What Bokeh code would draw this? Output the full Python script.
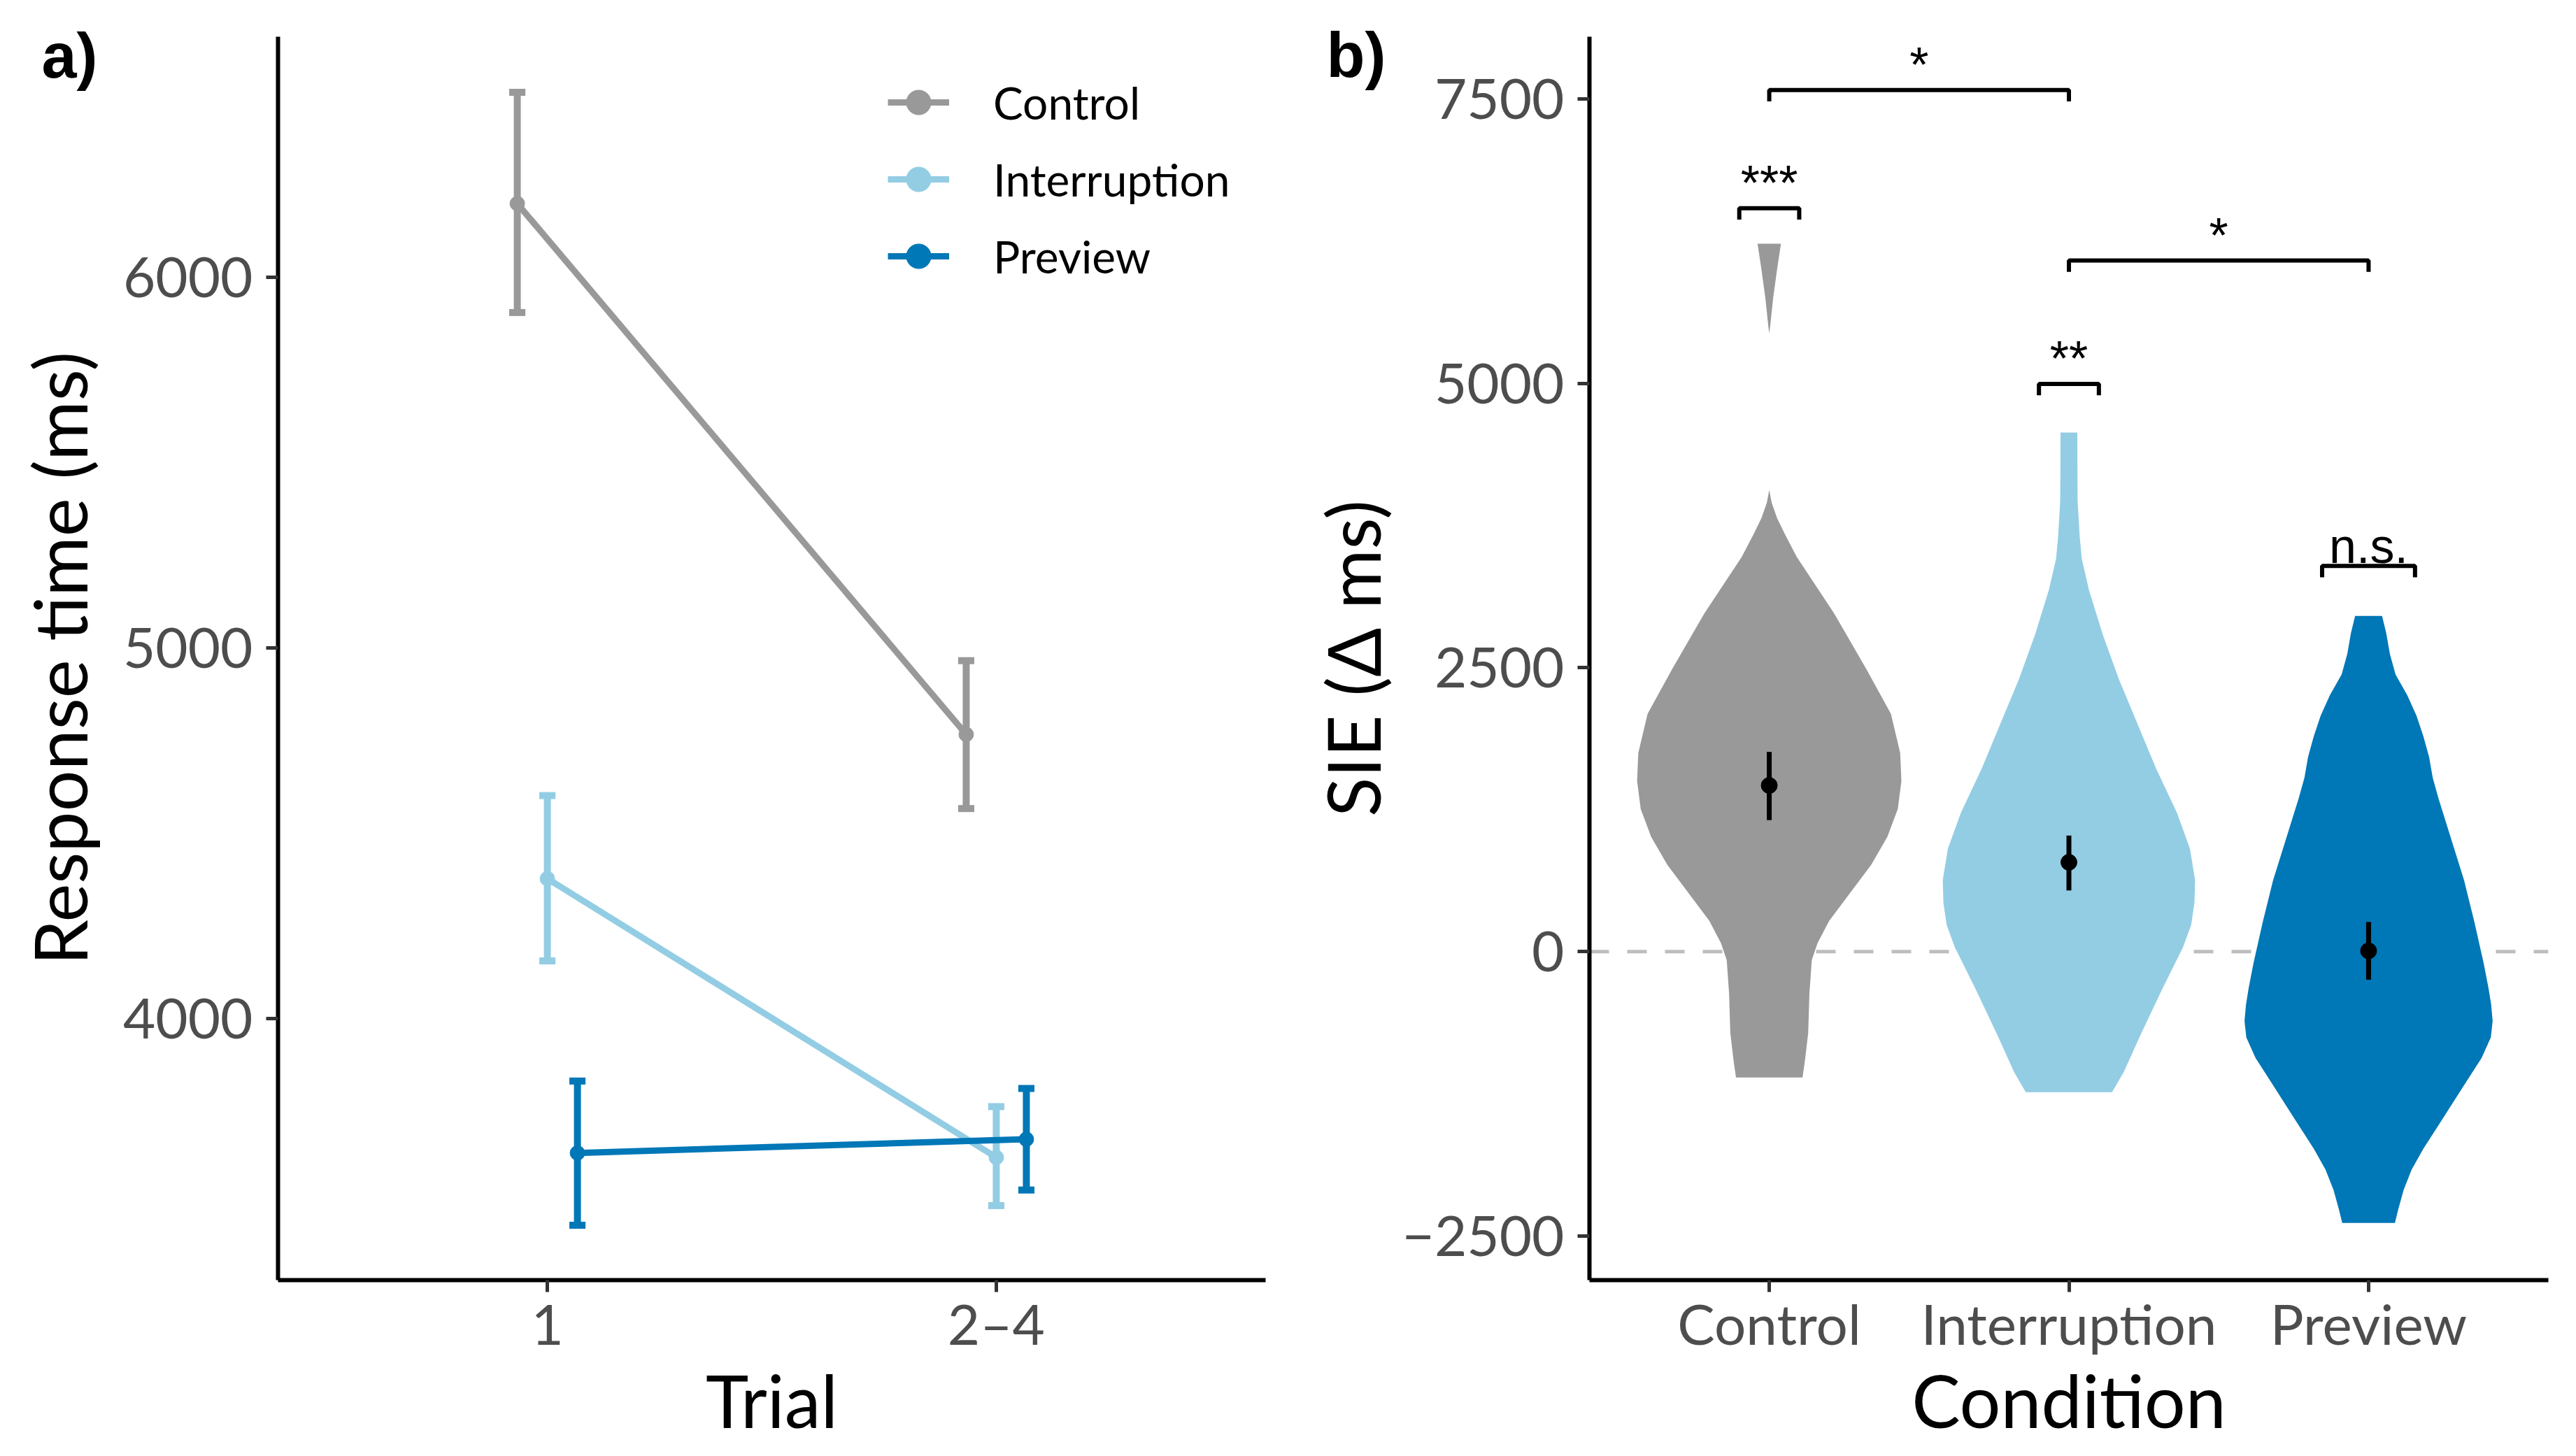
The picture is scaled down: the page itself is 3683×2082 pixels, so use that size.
from bokeh.plotting import figure
from bokeh.models import Range1d, FixedTicker, Span, Legend, LegendItem, LinearAxis
from bokeh.layouts import row
from bokeh.embed import file_html
from bokeh.resources import INLINE
from bokeh.core.properties import value

# ---------------- data ----------------
CONDITIONS = ["Control", "Interruption", "Preview"]
COLORS = ["#999999", "#93CDE4", "#0077B6"]
TRIALS = ["1", "2\u20134"]
DODGE = [-0.067, 0.0, 0.067]

# panel a: response time (ms), per condition, per trial
RT_MEAN = [[6199, 4767], [4378, 3626], [3638, 3675]]
RT_LOW = [[5905, 4567], [4156, 3496], [3443, 3538]]
RT_HIGH = [[6499, 4966], [4602, 3763], [3832, 3812]]
RT_TICKS = [4000, 5000, 6000]

# panel b: SIE (delta ms)
SIE_MEAN = [1462, 786, 7]
SIE_LOW = [1157, 538, -247]
SIE_HIGH = [1757, 1021, 261]
SIE_TICKS = [-2500, 0, 2500, 5000, 7500]
SIE_TICK_LABELS = ["\u22122500", "0", "2500", "5000", "7500"]

# violin outlines: y value and half width (in category units)
CONTROL_VY = [6228, 6000, 5750, 5500, 5440, 4060, 3950, 3815, 3668, 3471, 2978, 2486,
              2092, 1748, 1501, 1255, 1009, 763, 517, 271, 74, -74, -369, -714, -960, -1108]
CONTROL_VW = [0.039, 0.026, 0.013, 0.003, 0.0, 0.0, 0.008, 0.026, 0.053, 0.092, 0.216, 0.324,
              0.406, 0.437, 0.441, 0.429, 0.394, 0.340, 0.270, 0.200, 0.161, 0.142, 0.134,
              0.130, 0.119, 0.111]
INTERRUPTION_VY = [4566, 3966, 3652, 3455, 3181, 2788, 2395, 2003, 1610, 1218, 904, 629,
                   432, 236, 40, -353, -745, -1059, -1236]
INTERRUPTION_VW = [0.028, 0.029, 0.036, 0.043, 0.067, 0.113, 0.167, 0.229, 0.291, 0.361,
                   0.404, 0.421, 0.419, 0.408, 0.381, 0.307, 0.237, 0.183, 0.144]
PREVIEW_VY = [2953, 2801, 2619, 2438, 2257, 2075, 1894, 1712, 1531, 1350, 987, 624, 261,
              -102, -319, -464, -610, -755, -936, -1190, -1480, -1734, -1916, -2097,
              -2278, -2387]
PREVIEW_VW = [0.045, 0.059, 0.071, 0.090, 0.129, 0.160, 0.183, 0.202, 0.214, 0.233, 0.276,
              0.319, 0.353, 0.384, 0.400, 0.409, 0.414, 0.408, 0.377, 0.315, 0.245, 0.183,
              0.144, 0.117, 0.098, 0.088]
VIOLIN_Y = [CONTROL_VY, INTERRUPTION_VY, PREVIEW_VY]
VIOLIN_W = [CONTROL_VW, INTERRUPTION_VW, PREVIEW_VW]

# significance annotations
SIG_FROM = ["Control", "Control", "Interruption", "Interruption", "Preview"]
SIG_TO = ["Control", "Interruption", "Interruption", "Preview", "Preview"]
SIG_Y = [6540, 7580, 4994, 6080, 3393]
SIG_PAD = [0.1, 0.0, 0.1, 0.0, 0.155]
SIG_TEXT = ["***", "*", "**", "*", "n.s."]
SIG_LABEL_Y = [6759, 7799, 5213, 6299, 3569]
SIG_TIP = 100

# panel tags ("a)", "b)") and the y value at which each sits
PANEL_TAGS = ["a)", "b)"]
PANEL_TAG_Y = [6598, 7883]

FONT = "Lato"
TICK_COLOR = "#4D4D4D"


def style(p):
    p.grid.visible = False
    p.outline_line_color = None
    p.background_fill_color = "white"
    p.border_fill_color = "white"
    for ax in (p.xaxis[0], p.yaxis[0]):
        ax.axis_line_width = 6
        ax.axis_line_color = "black"
        ax.major_tick_line_width = 5
        ax.major_tick_line_color = "#333333"
        ax.major_tick_out = 17
        ax.major_tick_in = 0
        ax.minor_tick_line_color = None
        ax.major_label_text_font = FONT
        ax.major_label_text_font_size = "80px"
        ax.major_label_text_color = TICK_COLOR
        ax.axis_label_text_font = FONT
        ax.axis_label_text_font_size = "104px"
        ax.axis_label_text_font_style = "normal"
        ax.axis_label_text_color = "black"
    p.xaxis[0].major_label_standoff = -4
    p.xaxis[0].axis_label_standoff = -4
    p.yaxis[0].major_label_standoff = 19


def add_tag(p, tag, y, standoff):
    ax = LinearAxis(ticker=FixedTicker(ticks=[y]), major_label_overrides={y: tag},
                    axis_line_color=None, major_tick_line_color=None,
                    minor_tick_line_color=None, major_tick_out=0, major_tick_in=0,
                    major_label_standoff=standoff, major_label_text_font="Liberation Sans",
                    major_label_text_font_style="bold", major_label_text_font_size="90px",
                    major_label_text_color="black")
    p.add_layout(ax, "left")


# ---------------- panel a ----------------
pa = figure(width=1842, height=2066, output_backend="svg", toolbar_location=None,
            x_range=Range1d(0.4, 2.6), y_range=Range1d(3295, 6649),
            min_border_left=397, min_border_right=33, min_border_top=52,
            min_border_bottom=231, x_axis_label="Trial", y_axis_label="Response time (ms)")
style(pa)
pa.yaxis[0].axis_label_standoff = 26
pa.xaxis[0].ticker = FixedTicker(ticks=list(range(1, len(TRIALS) + 1)))
pa.xaxis[0].major_label_overrides = {i + 1: t for i, t in enumerate(TRIALS)}
pa.yaxis[0].ticker = FixedTicker(ticks=RT_TICKS)

items = []
cap = 0.018
for ci, cond in enumerate(CONDITIONS):
    xs = [ti + 1 + DODGE[ci] for ti in range(len(TRIALS))]
    col = COLORS[ci]
    pa.segment(x0=xs, y0=RT_LOW[ci], x1=xs, y1=RT_HIGH[ci], line_color=col, line_width=10)
    pa.segment(x0=[x - cap for x in xs], y0=RT_LOW[ci], x1=[x + cap for x in xs],
               y1=RT_LOW[ci], line_color=col, line_width=10)
    pa.segment(x0=[x - cap for x in xs], y0=RT_HIGH[ci], x1=[x + cap for x in xs],
               y1=RT_HIGH[ci], line_color=col, line_width=10)
    lr = pa.line(xs, RT_MEAN[ci], line_color=col, line_width=9)
    sr = pa.scatter(xs, RT_MEAN[ci], size=21, fill_color=col, line_color=col)
    items.append(LegendItem(label=cond, renderers=[lr, sr]))

legend = Legend(items=items, location=(872, 1414), border_line_color=None,
                background_fill_alpha=0, padding=0, margin=0, spacing=10,
                glyph_width=88, glyph_height=100, label_height=100, label_standoff=63,
                label_text_font=FONT, label_text_font_size="64px", label_text_color="black")
pa.add_layout(legend)
add_tag(pa, PANEL_TAGS[0], PANEL_TAG_Y[0], -121)

# ---------------- panel b ----------------
pb = figure(width=1825, height=2066, output_backend="svg", toolbar_location=None,
            x_range=Range1d(0.4, 3.6), y_range=Range1d(-2890, 8049),
            min_border_left=430, min_border_right=24, min_border_top=52,
            min_border_bottom=231, x_axis_label="Condition",
            y_axis_label="SIE (\u0394 ms)")
style(pb)
pb.yaxis[0].axis_label_standoff = 6
pb.xaxis[0].ticker = FixedTicker(ticks=list(range(1, len(CONDITIONS) + 1)))
pb.xaxis[0].major_label_overrides = {i + 1: c for i, c in enumerate(CONDITIONS)}
pb.yaxis[0].ticker = FixedTicker(ticks=SIE_TICKS)
pb.yaxis[0].major_label_overrides = {t: l for t, l in zip(SIE_TICKS, SIE_TICK_LABELS)}

pb.add_layout(Span(location=0, dimension="width", line_color="#BEBEBE", line_width=5,
                   line_dash="28 26", level="underlay"))

for ci, cond in enumerate(CONDITIONS):
    cx = ci + 1
    vy = VIOLIN_Y[ci]
    vw = VIOLIN_W[ci]
    px = [cx + w for w in vw] + [cx - w for w in reversed(vw)]
    py = list(vy) + list(reversed(vy))
    pb.patch(px, py, fill_color=COLORS[ci], line_color=None)

mx = [i + 1 for i in range(len(CONDITIONS))]
pb.segment(x0=mx, y0=SIE_LOW, x1=mx, y1=SIE_HIGH, line_color="black", line_width=7)
pb.scatter(mx, SIE_MEAN, size=23, fill_color="black", line_color="black")

pos = {c: i + 1 for i, c in enumerate(CONDITIONS)}
bx, by, tx = [], [], []
for f, t, y, pad in zip(SIG_FROM, SIG_TO, SIG_Y, SIG_PAD):
    xl = pos[f] - pad
    xr = pos[t] + pad
    bx.append([xl, xl, xr, xr])
    by.append([y - SIG_TIP, y, y, y - SIG_TIP])
    tx.append((xl + xr) / 2)
pb.multi_line(bx, by, line_color="black", line_width=6)
pb.text(x=tx, y=SIG_LABEL_Y, text=SIG_TEXT, text_font=value("Liberation Sans"),
        text_font_size="70px", text_align="center", text_baseline="alphabetic",
        text_color="black")
add_tag(pb, PANEL_TAGS[1], PANEL_TAG_Y[1], -114)

layout = row(pa, pb)
open("out.html", "w").write(file_html(layout, INLINE))
